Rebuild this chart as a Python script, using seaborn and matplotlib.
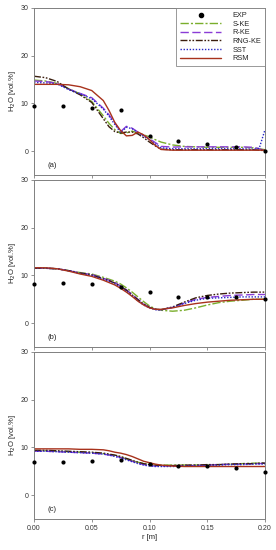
import numpy as np
import pandas as pd
import matplotlib
matplotlib.use("Agg")
import matplotlib.pyplot as plt
from matplotlib.lines import Line2D
import seaborn as sns

sns.set_theme(style="white")
plt.rcParams['font.family'] = ['Liberation Sans', 'DejaVu Sans']

# ---------------- data ----------------
exp_r = [0.0, 0.025, 0.05, 0.075, 0.10, 0.125, 0.15, 0.175, 0.20]
exp_a = [9.4, 9.4, 9.1, 8.7, 3.1, 2.1, 1.5, 0.8, 0.0]
exp_b = [8.2, 8.4, 8.3, 7.6, 6.5, 5.5, 5.4, 5.4, 5.0]
exp_c = [6.9, 7.0, 7.2, 7.3, 6.5, 6.2, 6.1, 5.6, 4.9]

r_grid = [0.0, 0.01, 0.02, 0.03, 0.04, 0.05, 0.06, 0.065, 0.07, 0.075, 0.08,
          0.085, 0.09, 0.095, 0.10, 0.105, 0.11, 0.12, 0.13, 0.14, 0.15,
          0.16, 0.17, 0.18, 0.19, 0.195, 0.20]

# panel (a)
a_ske = [14.9, 14.7, 14.2, 13.1, 12.0, 10.4, 7.4, 5.8, 4.5, 3.7, 3.8, 4.2, 3.8,
         3.4, 3.0, 2.4, 1.9, 1.3, 1.0, 0.9, 0.8, 0.8, 0.8, 0.8, 0.7, 0.5, 0.3]
a_rke = [14.7, 14.6, 14.2, 13.0, 12.1, 11.2, 9.0, 7.6, 5.9, 4.1, 5.2, 4.8, 4.0,
         3.3, 2.6, 1.8, 1.0, 0.85, 0.9, 0.9, 0.9, 0.9, 0.9, 0.9, 0.8, 0.5, 0.1]
a_rng = [15.7, 15.4, 14.6, 13.0, 11.8, 10.2, 6.8, 5.1, 4.1, 3.8, 4.0, 4.0, 3.6,
         2.8, 1.9, 1.1, 0.4, 0.3, 0.3, 0.3, 0.3, 0.3, 0.3, 0.3, 0.3, 0.2, 0.1]
a_sst = [14.4, 14.3, 14.1, 12.9, 12.0, 11.0, 8.8, 7.3, 5.6, 3.9, 5.0, 4.7, 3.9,
         3.1, 2.4, 1.5, 0.7, 0.5, 0.5, 0.5, 0.5, 0.5, 0.5, 0.5, 0.4, 0.6, 4.5]
a_rsm = [14.0, 14.0, 14.0, 13.9, 13.5, 12.7, 10.6, 8.5, 6.0, 4.3, 3.2, 3.3, 4.0,
         3.4, 2.4, 1.2, 0.35, 0.2, 0.2, 0.2, 0.2, 0.2, 0.2, 0.2, 0.2, 0.2, 0.2]

# panel (b)
b_ske = [11.5, 11.5, 11.4, 11.0, 10.6, 10.3, 9.6, 9.2, 8.8, 8.2, 7.4, 6.5, 5.5,
         4.5, 3.6, 3.0, 2.7, 2.5, 2.7, 3.2, 3.8, 4.3, 4.6, 4.8, 5.0, 5.0, 5.0]
b_rke = [11.5, 11.5, 11.4, 11.0, 10.5, 10.2, 9.4, 9.0, 8.5, 7.8, 7.0, 6.0, 5.0,
         4.0, 3.3, 2.9, 2.8, 3.3, 4.2, 5.0, 5.4, 5.6, 5.8, 5.9, 6.0, 6.0, 6.0]
b_rng = [11.5, 11.5, 11.4, 11.0, 10.5, 10.1, 9.3, 8.9, 8.4, 7.7, 6.9, 5.9, 4.9,
         4.0, 3.3, 2.9, 2.8, 3.4, 4.4, 5.3, 5.8, 6.1, 6.3, 6.4, 6.5, 6.5, 6.5]
b_sst = [11.5, 11.5, 11.4, 11.0, 10.4, 10.0, 9.2, 8.7, 8.2, 7.5, 6.7, 5.7, 4.7,
         3.8, 3.2, 2.8, 2.8, 3.3, 4.1, 4.8, 5.2, 5.3, 5.4, 5.5, 5.5, 5.5, 5.5]
b_rsm = [11.6, 11.6, 11.4, 10.9, 10.3, 9.8, 9.0, 8.5, 8.0, 7.3, 6.5, 5.6, 4.6,
         3.8, 3.2, 2.9, 2.9, 3.2, 3.7, 4.1, 4.4, 4.6, 4.8, 4.9, 5.0, 5.0, 5.0]

# panel (c)
c_ske = [9.3, 9.3, 9.2, 9.1, 9.0, 8.9, 8.7, 8.5, 8.3, 8.0, 7.6, 7.2, 6.9,
         6.6, 6.4, 6.3, 6.3, 6.3, 6.3, 6.3, 6.3, 6.4, 6.5, 6.6, 6.7, 6.7, 6.8]
c_rke = [9.2, 9.2, 9.1, 9.0, 8.9, 8.8, 8.6, 8.4, 8.2, 7.9, 7.5, 7.1, 6.7,
         6.4, 6.2, 6.1, 6.1, 6.1, 6.2, 6.2, 6.3, 6.4, 6.5, 6.5, 6.6, 6.6, 6.7]
c_rng = [9.4, 9.4, 9.3, 9.2, 9.1, 9.0, 8.8, 8.6, 8.4, 8.1, 7.7, 7.3, 6.9,
         6.6, 6.4, 6.3, 6.2, 6.2, 6.3, 6.3, 6.4, 6.4, 6.5, 6.6, 6.6, 6.7, 6.7]
c_sst = [9.2, 9.2, 9.1, 9.0, 8.9, 8.8, 8.6, 8.4, 8.1, 7.8, 7.4, 7.0, 6.6,
         6.3, 6.1, 6.0, 6.0, 6.0, 6.1, 6.2, 6.2, 6.3, 6.4, 6.4, 6.5, 6.5, 6.5]
c_rsm = [9.7, 9.7, 9.7, 9.7, 9.6, 9.6, 9.5, 9.3, 9.0, 8.8, 8.5, 8.1, 7.6,
         7.1, 6.8, 6.5, 6.3, 6.1, 6.0, 6.0, 6.0, 6.0, 6.0, 6.0, 6.0, 6.0, 6.0]

models = ["S-KE", "R-KE", "RNG-KE", "SST", "RSM"]
panels = {
    "a": (exp_a, [a_ske, a_rke, a_rng, a_sst, a_rsm]),
    "b": (exp_b, [b_ske, b_rke, b_rng, b_sst, b_rsm]),
    "c": (exp_c, [c_ske, c_rke, c_rng, c_sst, c_rsm]),
}

colors = {"S-KE": "#7aae2c", "R-KE": "#8a3cd6", "RNG-KE": "#3b1e0e",
          "SST": "#2727c8", "RSM": "#a8321c"}
dashes = {"S-KE": (6, 1.5, 1.5, 1.5), "R-KE": (6, 2.5), "RNG-KE": (5, 1.2, 1.2, 1.2, 1.2, 1.2),
          "SST": (1, 1.2), "RSM": ""}

# ---------------- figure ----------------
fig = plt.figure(figsize=(2.76, 5.5), dpi=100)
left, width = 34 / 276, (265 - 34) / 276
tops = [8, 180, 352]
h = 167
spine_col = "#808080"
for i, (key, (exp_vals, series)) in enumerate(panels.items()):
    top = tops[i]
    ax = fig.add_axes([left, 1 - (top + h) / 550, width, h / 550])
    rows = []
    for m, vals in zip(models, series):
        for rr, v in zip(r_grid, vals):
            rows.append({"r": rr, "val": v, "model": m})
    df = pd.DataFrame(rows)
    sns.lineplot(data=df, x="r", y="val", hue="model", style="model",
                 hue_order=models, style_order=models, palette=colors,
                 dashes=dashes, linewidth=1.0, ax=ax, legend=False,
                 estimator=None, sort=False)
    dexp = pd.DataFrame({"r": exp_r, "val": exp_vals})
    sns.scatterplot(data=dexp, x="r", y="val", color="black", s=9,
                    edgecolor="black", linewidth=0, ax=ax, zorder=5,
                    clip_on=False)
    ax.set_xlim(0, 0.2)
    ax.set_ylim(-5, 30)
    ax.set_yticks([0, 10, 20, 30])
    ax.set_xticks([0, 0.05, 0.10, 0.15, 0.20])
    ax.tick_params(axis="both", direction="out", length=2.5, width=0.6,
                   color=spine_col, labelsize=5, pad=1.5, labelcolor="#333333",
                   left=True, bottom=True)
    for s in ax.spines.values():
        s.set_color(spine_col)
        s.set_linewidth(0.7)
    ax.set_ylabel("H$_2$O [vol.%]", fontsize=5.5, labelpad=2, color="#222222")
    if key == "c":
        ax.set_xticklabels(["0.00", "0.05", "0.10", "0.15", "0.20"])
        ax.set_xlabel("r [m]", fontsize=5.5, labelpad=2, color="#222222")
    else:
        ax.set_xticklabels([])
        ax.set_xlabel("")
    ax.text(0.012, -3, f"({key})", fontsize=5.5, color="#222222", va="center")

    if key == "a":
        handles = [Line2D([], [], marker="o", color="black", linestyle="none",
                          markersize=3)]
        for m in models:
            ls = "-" if dashes[m] == "" else (0, dashes[m])
            handles.append(Line2D([], [], color=colors[m], linestyle=ls, linewidth=1.0))
        leg = ax.legend(handles, ["EXP"] + models, loc="upper right",
                        fontsize=5.3, handlelength=5.6, handletextpad=1.5,
                        labelspacing=0.2, borderpad=0.55, frameon=True,
                        fancybox=False, borderaxespad=0)
        leg.get_frame().set_edgecolor(spine_col)
        leg.get_frame().set_linewidth(0.7)

fig.savefig("out.png", dpi=100)
